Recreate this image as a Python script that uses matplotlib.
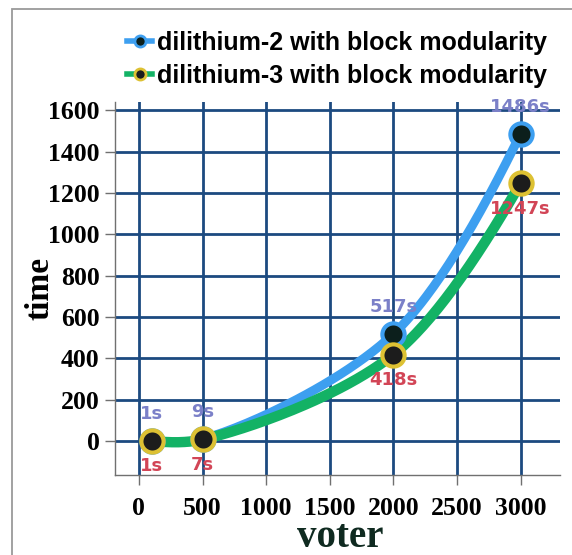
import numpy as np
import matplotlib
matplotlib.use("Agg")
import matplotlib.pyplot as plt
from matplotlib.patches import Rectangle
from matplotlib.lines import Line2D

# data
voters = [100, 500, 2000, 3000]
dil2 = [1, 9, 517, 1486]
dil3 = [1, 7, 418, 1247]
dil2_labels = ["1s", "9s", "517s", "1486s"]
dil3_labels = ["1s", "7s", "418s", "1247s"]
names = ["dilithium-2 with block modularity", "dilithium-3 with block modularity"]

BLUE = "#3d9ff0"
GREEN = "#13b265"
GRID = "#1c4a80"


def bez(p0, c1, c2, p3, n=50):
    s = np.linspace(0, 1, n)[:, None]
    return (1 - s) ** 3 * p0 + 3 * (1 - s) ** 2 * s * c1 + 3 * (1 - s) * s ** 2 * c2 + s ** 3 * p3


def quad(p0, c, p2, n=50):
    s = np.linspace(0, 1, n)[:, None]
    return (1 - s) ** 2 * p0 + 2 * (1 - s) * s * c + s ** 2 * p2


def spline(ax, x, y, smoothing=1.0):
    # smooth line through the points, computed in pixel space
    pts = ax.transData.transform(np.column_stack([x, y]))
    tang = []
    for i in range(1, len(pts) - 1):
        d1 = pts[i - 1] - pts[i]
        d2 = pts[i + 1] - pts[i]
        d1a = np.hypot(*d1) ** 0.5
        d2a = np.hypot(*d2) ** 0.5
        num = (d2a ** 2 * d1 - d1a ** 2 * d2) * smoothing
        tang.append((pts[i] + num / (3 * d2a * (d1a + d2a)),
                     pts[i] - num / (3 * d1a * (d1a + d2a))))
    segs = [quad(pts[0], tang[0][0], pts[1])]
    for i in range(2, len(pts) - 1):
        segs.append(bez(pts[i - 1], tang[i - 2][1], tang[i - 1][0], pts[i]))
    segs.append(quad(pts[-2], tang[-1][1], pts[-1]))
    out = ax.transData.inverted().transform(np.concatenate(segs))
    return out[:, 0], out[:, 1]


fig = plt.figure(figsize=(5.72, 5.55), dpi=100)
fig.patches.append(Rectangle((12 / 572, -0.1), 1.2, (555 - 9) / 555 + 0.1,
                             transform=fig.transFigure, fill=False,
                             edgecolor="#9a9a9a", linewidth=1.3))
ax = fig.add_axes([115 / 572, 80 / 555, 445 / 572, 373 / 555])

ax.set_xlim(-188, 3310)
ax.set_ylim(-165, 1640)
ax.set_xticks(range(0, 3001, 500))
ax.set_yticks(range(0, 1601, 200))
ax.grid(True, color=GRID, linewidth=2)
ax.set_axisbelow(True)
for side in ["top", "right"]:
    ax.spines[side].set_visible(False)
for side in ["left", "bottom"]:
    ax.spines[side].set_color("#707070")
    ax.spines[side].set_linewidth(1)
ax.tick_params(colors="#707070", length=7, width=1)
ax.tick_params(axis="x", pad=9)
ax.tick_params(axis="y", pad=4)
for lab in ax.get_xticklabels() + ax.get_yticklabels():
    lab.set_fontfamily("Liberation Serif")
    lab.set_fontweight("bold")
    lab.set_fontsize(18.5)
    lab.set_color("black")

sx, sy = spline(ax, voters, dil2)
ax.plot(sx, sy, color=BLUE, linewidth=6.5, solid_capstyle="round", zorder=3)
sx, sy = spline(ax, voters, dil3)
ax.plot(sx, sy, color=GREEN, linewidth=7.5, solid_capstyle="round", zorder=4)

ax.plot(voters, dil2, "o", ms=16, mfc="#0c1f1c", mec=BLUE, mew=3, zorder=5)
ax.plot(voters, dil3, "o", ms=16, mfc="#1c1c1c", mec="#ddc133", mew=3, zorder=6)

for x, y, s in zip(voters, dil2, dil2_labels):
    ax.annotate(s, (x, y), xytext=(0, 13), textcoords="offset points",
                ha="center", va="bottom", color="#7b80c8", fontsize=13,
                fontweight="bold", fontfamily="DejaVu Sans", zorder=7)
for x, y, s in zip(voters, dil3, dil3_labels):
    ax.annotate(s, (x, y), xytext=(0, -12), textcoords="offset points",
                ha="center", va="top", color="#d24556", fontsize=13,
                fontweight="bold", fontfamily="DejaVu Sans", zorder=7)

fig.text(340 / 572, 1 - 547 / 555, "voter", ha="center", va="baseline",
         fontfamily="Liberation Serif", fontweight="bold", fontsize=28, color="#0f2a20")
ax.set_ylabel("time", fontfamily="Liberation Serif", fontweight="bold",
              fontsize=24, color="black", labelpad=-5)

handles = [
    Line2D([], [], color=BLUE, lw=4, marker="o", ms=8, mfc="#0c1f1c", mec=BLUE, mew=2),
    Line2D([], [], color=GREEN, lw=4, marker="o", ms=8, mfc="#1c1c1c", mec="#ddc133", mew=2),
]
leg = fig.legend(handles, names, loc="upper left", bbox_to_anchor=(127 / 572, 1 - 31 / 555),
                 frameon=False, handlelength=1.0, handletextpad=0.2, labelspacing=0.35,
                 borderaxespad=0, borderpad=0,
                 prop={"family": "Liberation Sans", "weight": "bold", "size": 18})

fig.savefig("out.png", dpi=100)
